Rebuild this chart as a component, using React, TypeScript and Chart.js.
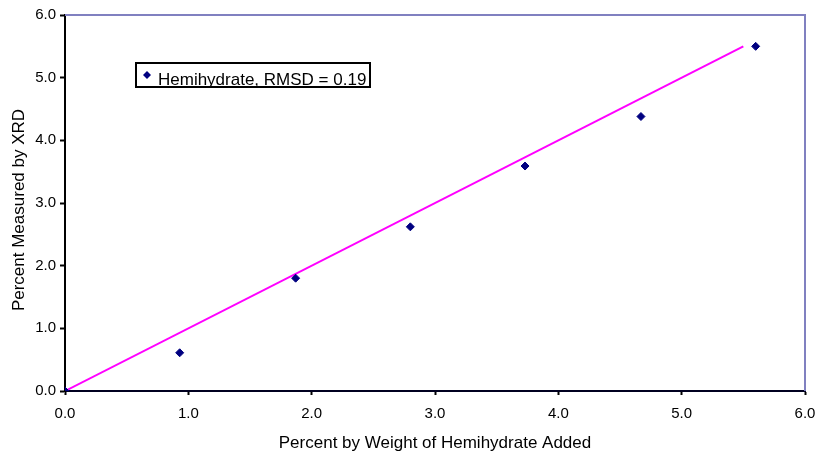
import React, { useEffect, useRef } from "react";
import { Chart, registerables } from "chart.js";

Chart.register(...registerables);

// Hemihydrate added by weight vs. amount measured by XRD (percent)
const addedPct = [0, 0.93, 1.87, 2.8, 3.73, 4.67, 5.6];
const measuredPct = [0, 0.61, 1.8, 2.62, 3.59, 4.38, 5.5];

// Ideal 1:1 reference line
const fitX = [0, 5.5];
const fitY = [0, 5.5];

const seriesName = "Hemihydrate";
const rmsd = 0.19;

const axisMin = 0;
const axisMax = 6;
const axisStep = 1;

const xTitle = "Percent by Weight of Hemihydrate Added";
const yTitle = "Percent Measured by XRD";

const FONT = "'Liberation Sans', Arial, sans-serif";

const framePlugin = {
  id: "frameAndLabels",
  afterDraw(chart: any) {
    const { ctx, chartArea } = chart;
    const { left, right, top, bottom } = chartArea;
    ctx.save();

    // top and right frame of the plot area
    ctx.strokeStyle = "#8080c0";
    ctx.lineWidth = 2;
    ctx.beginPath();
    ctx.moveTo(left, top);
    ctx.lineTo(right, top);
    ctx.lineTo(right, bottom);
    ctx.stroke();

    // axis titles
    ctx.fillStyle = "#000000";
    ctx.font = `17px ${FONT}`;
    ctx.textAlign = "center";
    ctx.textBaseline = "alphabetic";
    ctx.fillText(xTitle, (left + right) / 2, 448);

    ctx.save();
    ctx.translate(24, 210);
    ctx.rotate(-Math.PI / 2);
    ctx.textBaseline = "alphabetic";
    ctx.fillText(yTitle, 0, 0);
    ctx.restore();

    // legend box
    const bx = 136, by = 63, bw = 234, bh = 24;
    ctx.fillStyle = "#ffffff";
    ctx.fillRect(bx, by, bw, bh);
    ctx.strokeStyle = "#000000";
    ctx.lineWidth = 2;
    ctx.strokeRect(bx, by, bw, bh);

    const mx = 147, my = 75, r = 4;
    ctx.fillStyle = "#000080";
    ctx.beginPath();
    ctx.moveTo(mx, my - r);
    ctx.lineTo(mx + r, my);
    ctx.lineTo(mx, my + r);
    ctx.lineTo(mx - r, my);
    ctx.closePath();
    ctx.fill();

    ctx.fillStyle = "#000000";
    ctx.textAlign = "left";
    ctx.font = `17px ${FONT}`;
    ctx.fillText(`${seriesName}, RMSD = ${rmsd.toFixed(2)}`, 158, 85);

    ctx.restore();
  },
};

export default function App() {
  const canvasRef = useRef<HTMLCanvasElement | null>(null);

  useEffect(() => {
    const canvas = canvasRef.current;
    if (!canvas) return;

    const chart = new Chart(canvas, {
      type: "scatter",
      data: {
        datasets: [
          {
            label: seriesName,
            data: addedPct.map((x, i) => ({ x, y: measuredPct[i] })),
            pointStyle: "rectRot",
            pointRadius: 4,
            pointBackgroundColor: "#000080",
            pointBorderColor: "#000080",
            pointBorderWidth: 1,
            showLine: false,
            order: 1,
          },
          {
            label: "fit",
            data: fitX.map((x, i) => ({ x, y: fitY[i] })),
            showLine: true,
            borderColor: "#ff00ff",
            borderWidth: 2,
            pointRadius: 0,
            order: 2,
          },
        ],
      },
      options: {
        responsive: false,
        animation: false,
        layout: { padding: { left: 0, top: 15, right: 12, bottom: 0 } },
        plugins: {
          legend: { display: false },
          tooltip: { enabled: false },
        },
        scales: {
          x: {
            type: "linear",
            min: axisMin,
            max: axisMax,
            afterFit: (scale: any) => {
              scale.height = 64;
              scale.paddingLeft = 0;
              scale.paddingRight = 0;
            },
            ticks: {
              stepSize: axisStep,
              color: "#000000",
              font: { family: FONT, size: 15 },
              padding: 10,
              maxRotation: 0,
              callback: (v: any) => Number(v).toFixed(1),
            },
            grid: {
              drawOnChartArea: false,
              drawTicks: true,
              tickLength: 4,
              tickColor: "#000000",
              tickWidth: 2,
            },
            border: { display: true, color: "#000020", width: 2 },
          },
          y: {
            type: "linear",
            min: axisMin,
            max: axisMax,
            afterFit: (scale: any) => {
              scale.width = 65;
              scale.paddingTop = 0;
              scale.paddingBottom = 0;
            },
            ticks: {
              stepSize: axisStep,
              color: "#000000",
              font: { family: FONT, size: 15 },
              padding: 4,
              callback: (v: any) => Number(v).toFixed(1),
            },
            grid: {
              drawOnChartArea: false,
              drawTicks: true,
              tickLength: 5,
              tickColor: "#000000",
              tickWidth: 2,
            },
            border: { display: true, color: "#000000", width: 2 },
          },
        },
      },
      plugins: [framePlugin],
    });

    return () => chart.destroy();
  }, []);

  return (
    <div
      style={{
        position: "fixed",
        left: 0,
        top: 0,
        width: 817,
        height: 455,
        background: "#ffffff",
      }}
    >
      <canvas ref={canvasRef} width={817} height={455} style={{ display: "block" }} />
    </div>
  );
}
